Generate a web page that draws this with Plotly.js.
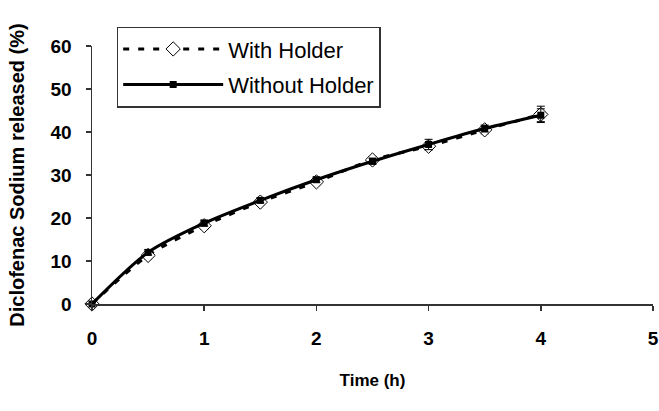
<!DOCTYPE html>
<html>
<head>
<meta charset="utf-8">
<script src="https://cdn.plot.ly/plotly-3.0.1.min.js"></script>
<style>html,body{margin:0;padding:0;background:#fff;}#chart{width:659px;height:411px;}</style>
</head>
<body>
<div id="chart"></div>
<script>
var timeH = [0, 0.5, 1, 1.5, 2, 2.5, 3, 3.5, 4];
var withHolder = [0, 11.3, 18.2, 23.7, 28.4, 33.5, 36.7, 40.5, 44.1];
var withHolderErr = [0.5, 0.8, 0.8, 0.6, 0.7, 0.8, 0.9, 0.9, 1.9];
var withoutHolder = [0, 12.0, 18.8, 24.1, 28.9, 33.2, 37.1, 40.8, 43.9];
var withoutHolderErr = [0.3, 0.6, 0.7, 0.6, 0.6, 0.7, 1.2, 0.8, 1.5];
var xTicks = [0, 1, 2, 3, 4, 5];
var yTicks = [0, 10, 20, 30, 40, 50, 60];
var seriesNames = ['With Holder', 'Without Holder'];

var traces = [
  {
    x: timeH, y: withHolder, name: seriesNames[0], type: 'scatter', mode: 'lines+markers',
    legendgroup: 'a', cliponaxis: false,
    line: {color: '#000', width: 3, dash: '6px,9px', shape: 'spline', smoothing: 0.8},
    marker: {symbol: 'diamond', size: 11, color: '#fff', line: {color: '#000', width: 1}},
    error_y: {type: 'data', array: withHolderErr, visible: true, color: '#000', thickness: 1, width: 4}
  },
  {
    x: timeH, y: withoutHolder, name: seriesNames[1], type: 'scatter', mode: 'lines+markers',
    legendgroup: 'b', cliponaxis: false,
    line: {color: '#000', width: 3, shape: 'spline', smoothing: 0.8},
    marker: {symbol: 'square', size: 7, color: '#000', line: {color: '#000', width: 0}},
    error_y: {type: 'data', array: withoutHolderErr, visible: true, color: '#000', thickness: 1, width: 4}
  }
];

var layout = {
  width: 659, height: 411,
  margin: {l: 92, r: 6, t: 46, b: 107, pad: 0},
  paper_bgcolor: '#fff', plot_bgcolor: '#fff',
  font: {family: 'Arial, Liberation Sans, sans-serif', color: '#000'},
  showlegend: true,
  legend: {
    x: 0.044, y: 1.075, xanchor: 'left', yanchor: 'top',
    bgcolor: '#fff', bordercolor: '#333', borderwidth: 1.5,
    font: {size: 22, color: '#000', family: 'Arial, Liberation Sans, sans-serif'},
    itemwidth: 100, tracegroupgap: 4, traceorder: 'grouped'
  },
  xaxis: {
    range: [0, 5], tickvals: xTicks, ticktext: xTicks.map(String),
    showgrid: false, zeroline: false, showline: true, linecolor: '#333', linewidth: 1.5,
    ticks: 'outside', ticklen: 5, tickcolor: '#333', tickwidth: 1.5,
    ticklabelstandoff: 12,
    tickfont: {size: 19, family: 'Arial, Liberation Sans, sans-serif', weight: 'bold', color: '#000'},
    title: {text: 'Time (h)', standoff: 26, font: {size: 17, family: 'Arial, Liberation Sans, sans-serif', weight: 'bold', color: '#000'}}
  },
  yaxis: {
    range: [0, 60], tickvals: yTicks, ticktext: yTicks.map(String),
    showgrid: false, zeroline: false, showline: true, linecolor: '#333', linewidth: 1.5,
    ticks: 'outside', ticklen: 5, tickcolor: '#333', tickwidth: 1.5,
    ticklabelstandoff: 10,
    tickfont: {size: 19, family: 'Arial, Liberation Sans, sans-serif', weight: 'bold', color: '#000'},
    title: {text: 'Diclofenac Sodium released (%)', standoff: 20, font: {size: 20, family: 'Arial, Liberation Sans, sans-serif', weight: 'bold', color: '#000'}}
  }
};

Plotly.newPlot('chart', traces, layout, {displayModeBar: false, staticPlot: true});
</script>
</body>
</html>
